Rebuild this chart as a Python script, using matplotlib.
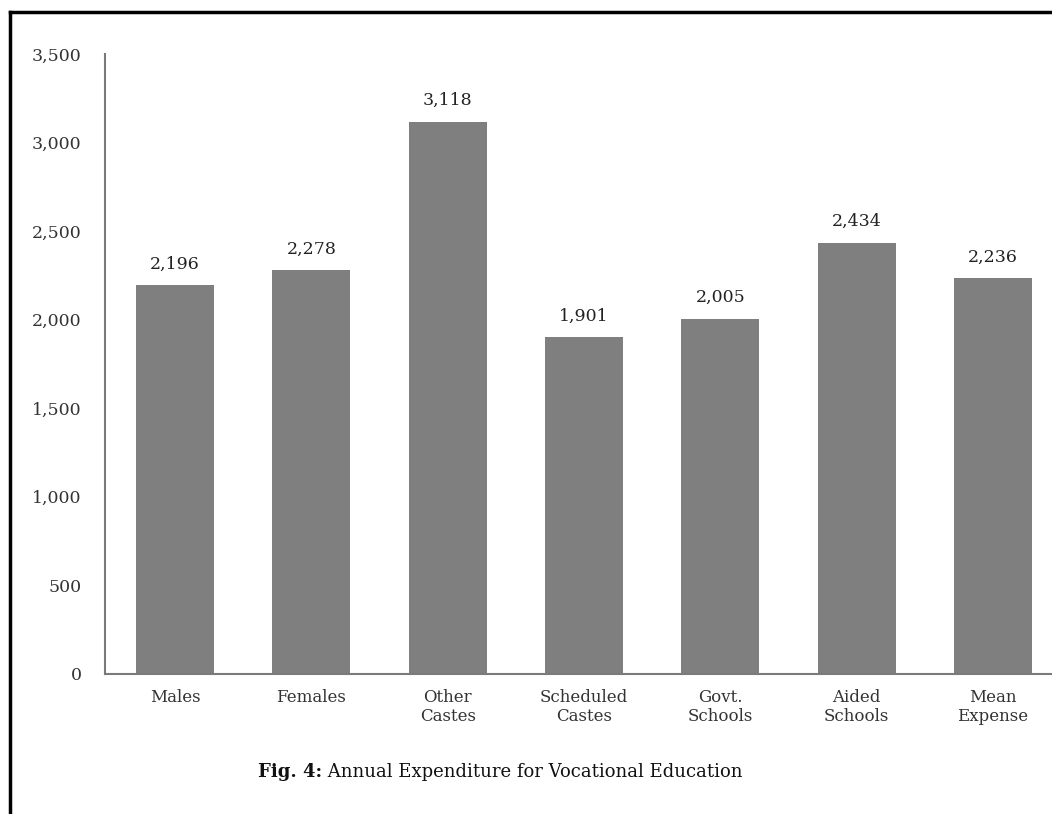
import matplotlib
matplotlib.use("Agg")
import matplotlib.pyplot as plt
from matplotlib.lines import Line2D

categories = ["Males", "Females", "Other\nCastes", "Scheduled\nCastes", "Govt.\nSchools", "Aided\nSchools", "Mean\nExpense"]
values = [2196, 2278, 3118, 1901, 2005, 2434, 2236]
yticks = [0, 500, 1000, 1500, 2000, 2500, 3000, 3500]
ytick_labels = ["0", "500", "1,000", "1,500", "2,000", "2,500", "3,000", "3,500"]
caption_bold = "Fig. 4:"
caption_rest = " Annual Expenditure for Vocational Education"

plt.rcParams['font.family'] = ['DejaVu Serif']

fig = plt.figure(figsize=(10.52, 8.14), dpi=100)
ax = fig.add_axes([0.0998, 0.172, 0.9002, 0.7618])

x = list(range(len(categories)))
ax.bar(x, values, width=0.572, color="#7f7f7f", edgecolor="none")
for xi, v in zip(x, values):
    ax.annotate(f"{v:,}", (xi, v), xytext=(0, 9), textcoords="offset points",
                ha="center", va="bottom", fontsize=12.5, color="#222222")

ax.set_xlim(-0.514, 6.434)
ax.set_ylim(0, 3500)
ax.set_yticks(yticks)
ax.set_yticklabels(ytick_labels, fontsize=12.5, color="#333333")
ax.set_xticks(x)
ax.set_xticklabels(categories, fontsize=12, color="#333333", linespacing=1.15)
ax.tick_params(axis="y", length=0, pad=17)
ax.tick_params(axis="x", length=0, pad=11)
for s in ["top", "right"]:
    ax.spines[s].set_visible(False)
for s in ["left", "bottom"]:
    ax.spines[s].set_color("#7a7a7a")
    ax.spines[s].set_linewidth(1.5)

t1 = fig.text(0.2455, 0.0515, caption_bold, fontsize=13, fontweight="bold",
              ha="left", va="center", color="#111111")
t2 = fig.text(0.3, 0.0515, caption_rest, fontsize=13, ha="left", va="center", color="#111111")
fig.canvas.draw()
r = fig.canvas.get_renderer()
bb = t1.get_window_extent(r)
bb2 = t2.get_window_extent(r)
w1 = bb.width
w2 = bb2.width
start = 500 - (w1 + w2) / 2
t1.set_x(start / fig.bbox.width)
t2.set_x((start + w1) / fig.bbox.width)
t1.set_y(1 - 772 / 814)
t2.set_y(1 - 772 / 814)

# frame
fig.add_artist(Line2D([10 / 1052, 10 / 1052], [0, 1 - 12 / 814], transform=fig.transFigure, color="black", linewidth=2.5))
fig.add_artist(Line2D([10 / 1052, 1], [1 - 12 / 814, 1 - 12 / 814], transform=fig.transFigure, color="black", linewidth=2.5))

fig.savefig("out.png", dpi=100)
